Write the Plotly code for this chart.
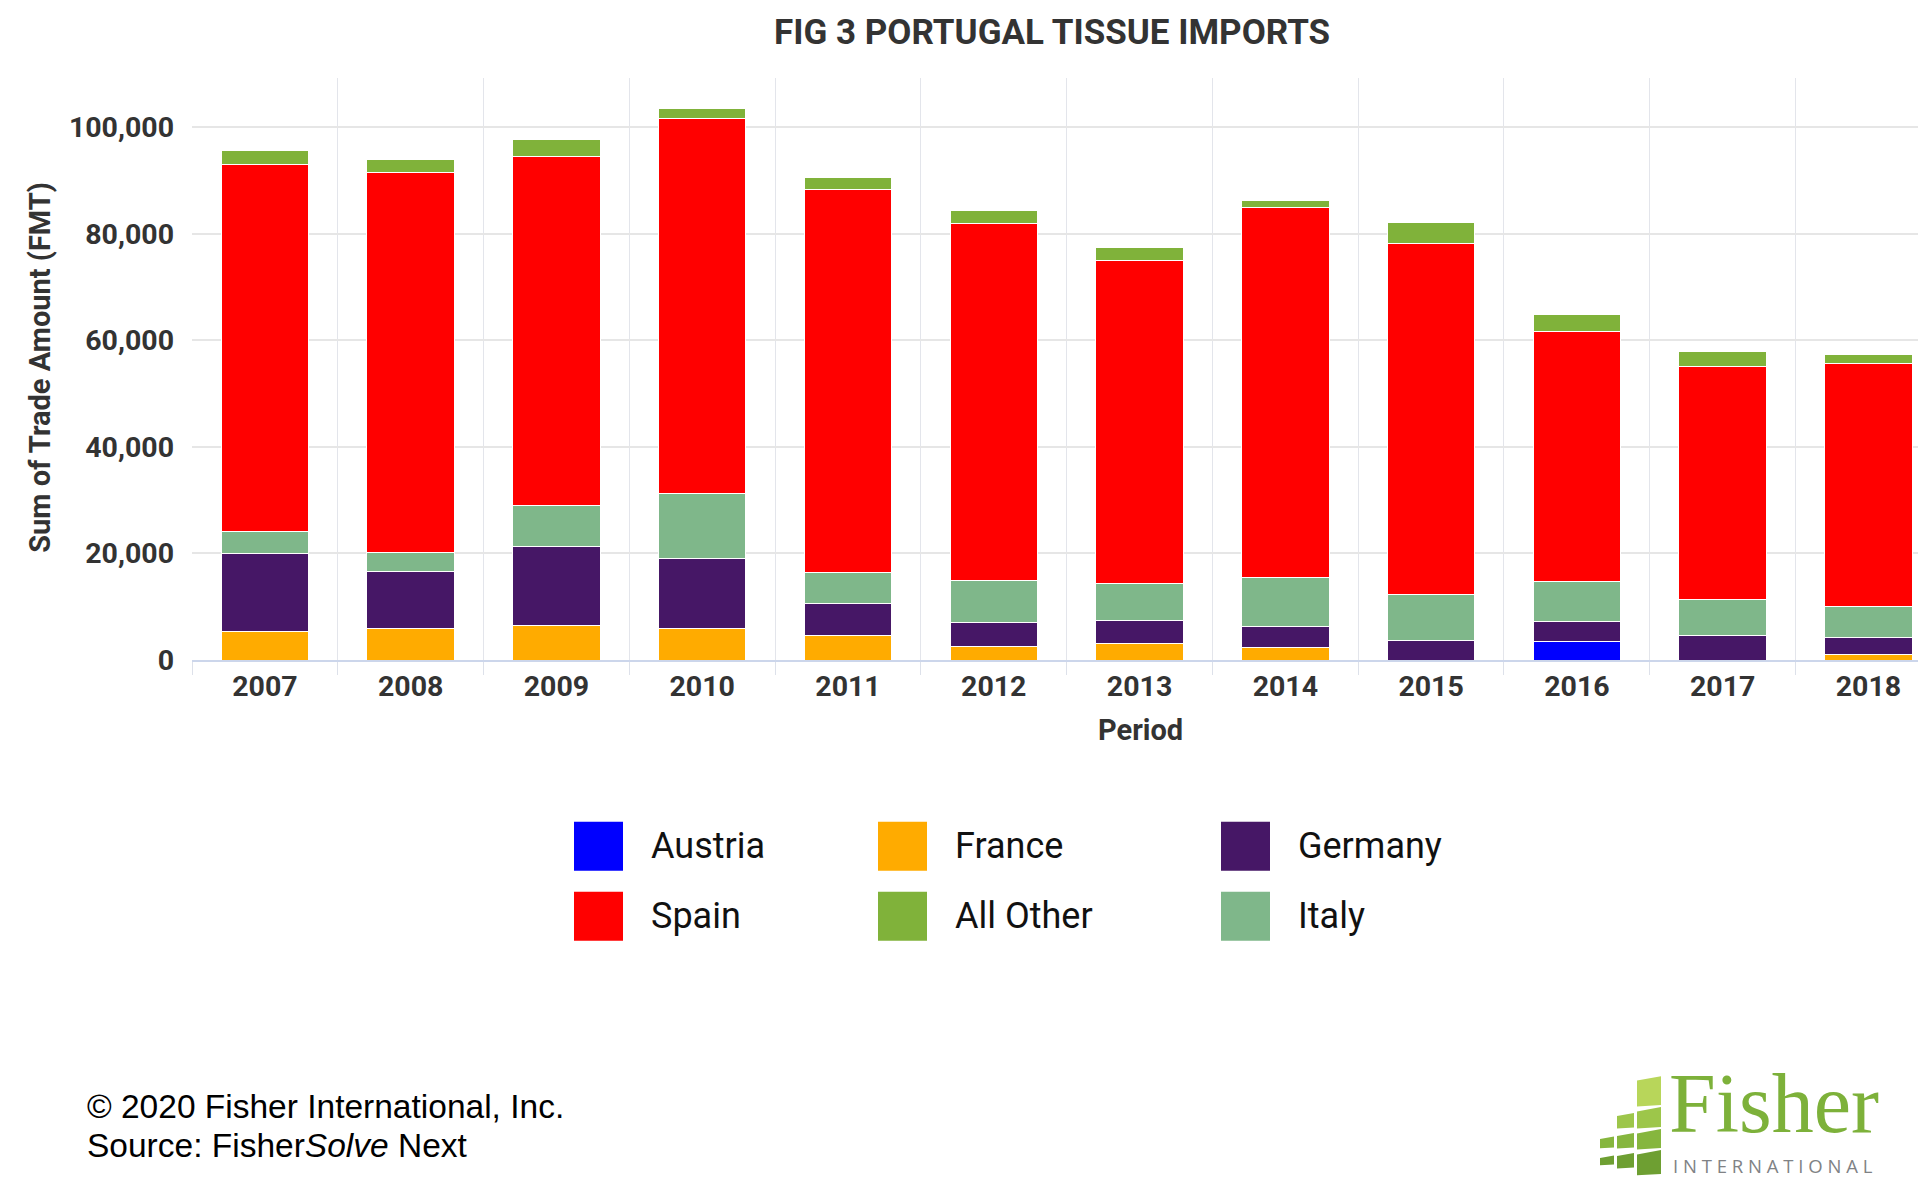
import plotly.graph_objects as go

# ---------------- data ----------------
years = ["2007", "2008", "2009", "2010", "2011", "2012",
         "2013", "2014", "2015", "2016", "2017", "2018"]
austria = [None, None, None, None, None, None, None, None, None, 3560, None, None]
france = [5400, 6000, 6500, 5900, 4600, 2500, 3100, 2370, None, None, None, 1040]
germany = [14600, 10670, 14800, 13200, 6000, 4600, 4220, 4000, 3700, 3630, 4590, 3180]
italy = [4150, 3560, 7700, 12150, 5900, 7850, 7110, 9190, 8670, 7560, 6670, 5850]
spain = [68740, 71260, 65480, 70370, 71850, 66890, 60590, 69330, 65780, 46890, 43850, 45560]
all_other = [2670, 2440, 3110, 1850, 2150, 2520, 2370, 1330, 3930, 3260, 2810, 1700]

series_names = ["Austria", "France", "Germany", "Italy", "Spain", "All Other"]
series_values = [austria, france, germany, italy, spain, all_other]
series_colors = ["#0000FF", "#FFAB00", "#461766", "#7FB78A", "#FF0000", "#80B23A"]
legend_order = ["Austria", "France", "Germany", "Spain", "All Other", "Italy"]

y_ticks = [0, 20000, 40000, 60000, 80000, 100000]

# ---------------- layout geometry (pixels) ----------------
W, H = 1918, 1200
PL, PT = 192, 78
PB = 660.5
PW = W - PL
PH = PB - PT


def px(x):
    return (x - PL) / PW


def py(y):
    return (PB - y) / PH


fig = go.Figure()
for name, vals, col in zip(series_names, series_values, series_colors):
    fig.add_trace(go.Bar(
        x=years, y=vals, name=name,
        marker=dict(color=col, line=dict(color="#FFFFFF", width=1)),
        showlegend=False,
    ))

TICKFONT = dict(family="Roboto", size=28.5, color="#333333", weight="bold")

fig.update_layout(
    width=W, height=H,
    barmode="stack", bargap=0.4,
    plot_bgcolor="#FFFFFF", paper_bgcolor="#FFFFFF",
    margin=dict(l=PL, r=0, t=PT, b=H - PB, autoexpand=False),
    xaxis=dict(
        type="category", range=[-0.5, 11.34], tickson="boundaries",
        showgrid=True, gridcolor="#E3E5EB", gridwidth=1,
        ticks="outside", ticklen=13, tickcolor="#DDE1EA",
        showline=True, linecolor="#CCD6EB", linewidth=1.5,
        tickfont=TICKFONT, automargin=False,
    ),
    yaxis=dict(
        range=[0, 109200], tickvals=y_ticks, tickformat=",",
        showgrid=True, gridcolor="#E6E6E6", gridwidth=1.5,
        zeroline=False, showline=False, ticks="",
        ticklabelstandoff=17, tickfont=TICKFONT, automargin=False,
    ),
    font=dict(family="Roboto", color="#333333"),
)

annotations = []
# Title
annotations.append(dict(
    text="FIG 3 PORTUGAL TISSUE IMPORTS", x=px(1052), y=py(32),
    xref="paper", yref="paper", xanchor="center", yanchor="middle",
    showarrow=False,
    font=dict(family="Roboto", size=35, color="#333333", weight="bold"),
))
# Y axis title
annotations.append(dict(
    text="Sum of Trade Amount (FMT)", x=px(40), y=py(368),
    xref="paper", yref="paper", xanchor="center", yanchor="middle",
    textangle=-90, showarrow=False,
    font=dict(family="Roboto", size=29, color="#333333", weight="bold"),
))
# X axis title
annotations.append(dict(
    text="Period", x=px(1140), y=py(731),
    xref="paper", yref="paper", xanchor="center", yanchor="middle",
    showarrow=False,
    font=dict(family="Roboto", size=29, color="#333333", weight="bold"),
))

# ---------------- custom legend (large swatches) ----------------
shapes = []
col_swatch_x = [574, 878, 1221]
row_center_y = [847, 917]
SW = 49
color_of = dict(zip(series_names, series_colors))
for i, name in enumerate(legend_order):
    r, c = divmod(i, 3)
    x0 = col_swatch_x[c]
    yc = row_center_y[r]
    shapes.append(dict(
        type="rect", xref="paper", yref="paper",
        x0=px(x0), x1=px(x0 + SW), y0=py(yc + SW / 2), y1=py(yc - SW / 2),
        fillcolor=color_of[name], line=dict(width=0),
    ))
    annotations.append(dict(
        text=name, x=px(x0 + SW + 26), y=py(yc),
        xref="paper", yref="paper", xanchor="left", yanchor="middle",
        showarrow=False,
        font=dict(family="Roboto", size=36, color="#111111"),
    ))

# ---------------- footer ----------------
annotations.append(dict(
    text="© 2020 Fisher International, Inc.", x=px(85), y=py(1107),
    xref="paper", yref="paper", xanchor="left", yanchor="middle",
    showarrow=False,
    font=dict(family="Liberation Sans", size=33.5, color="#000000"),
))
annotations.append(dict(
    text="Source: Fisher<i>Solve</i> Next", x=px(85), y=py(1146),
    xref="paper", yref="paper", xanchor="left", yanchor="middle",
    showarrow=False,
    font=dict(family="Liberation Sans", size=33.5, color="#000000"),
))

# ---------------- logo ----------------
tile_cols = [
    (1600, 1614, [(1129, 1146), (1148, 1163)]),
    (1617, 1634, [(1109, 1127), (1129, 1147), (1149, 1167)]),
    (1637, 1661, [(1077, 1106), (1108, 1128), (1130, 1149), (1151, 1175)]),
]
tile_greens = ["#B8D65A", "#9DC64A", "#86B63E", "#6E9F32"]
for x0, x1, tiles in tile_cols:
    n = len(tiles)
    for j, (y0, y1) in enumerate(tiles):
        skew = 0.18 * (1661 - x0)
        skew1 = 0.18 * (1661 - x1)
        g = tile_greens[min(3, j + (4 - n))]
        path = "M {a},{b} L {c},{d} L {c},{e} L {a},{f} Z".format(
            a=px(x0), b=py(y0 + skew), c=px(x1), d=py(y0 + skew1),
            e=py(y1 + skew1 * 0.3), f=py(y1 + skew * 0.3))
        shapes.append(dict(type="path", path=path, xref="paper", yref="paper",
                           fillcolor=g, line=dict(width=0)))
annotations.append(dict(
    text="Fisher", x=px(1667), y=py(1104), height=66,
    xref="paper", yref="paper", xanchor="left", yanchor="middle",
    showarrow=False,
    font=dict(family="Liberation Serif", size=84, color="#7DB13A"),
))
annotations.append(dict(
    text="I N T E R N A T I O N A L", x=px(1671), y=py(1166),
    xref="paper", yref="paper", xanchor="left", yanchor="middle",
    showarrow=False,
    font=dict(family="Open Sans", size=18.5, color="#808285"),
))

fig.update_layout(annotations=annotations, shapes=shapes)
fig.write_html("out.html", config={"displayModeBar": False},
               post_script="document.body.style.margin='0px';")
